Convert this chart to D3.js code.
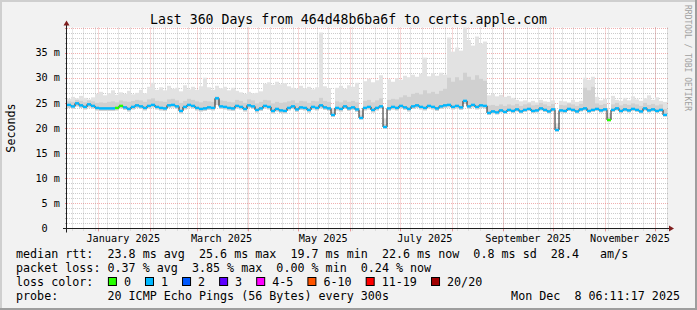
<!DOCTYPE html>
<html><head><meta charset="utf-8">
<script src="https://cdn.jsdelivr.net/npm/d3@7"></script>
<style>
html,body{margin:0;padding:0;background:#f2f2f2}
svg{display:block}
text{font-family:"DejaVu Sans Mono",monospace;white-space:pre}
</style>
</head><body><svg id="c" width="697" height="310"></svg>
<script>
const title = "Last 360 Days from 464d48b6ba6f to certs.apple.com";
const startTime = Date.UTC(2024, 11, 13, 6, 11, 17);
const endTime = Date.UTC(2025, 11, 8, 6, 11, 17);
const stepDays = 2.4;

const median = [
 24.6,24.3,24.9,24.5,24.2,24.7,24.4,24.0,23.9,23.9,
 23.9,23.9,24.0,24.4,24.1,23.8,24.2,24.5,24.3,24.0,
 24.4,24.6,24.2,24.0,23.9,24.5,24.6,24.3,23.4,24.2,
 24.6,24.4,24.0,23.8,23.9,24.1,24.0,25.9,24.3,24.2,
 24.0,23.9,24.4,24.2,23.8,24.5,24.3,23.6,23.9,24.4,
 24.2,23.4,23.8,23.5,23.4,24.0,24.3,23.7,24.1,24.0,
 23.6,24.2,24.0,24.5,24.1,23.9,22.6,24.0,23.8,24.3,
 23.9,24.1,23.7,22.0,24.0,24.2,23.6,24.0,24.3,20.2,
 23.9,24.2,24.0,24.4,24.1,23.8,24.3,24.5,24.2,24.0,
 24.4,24.2,23.9,24.3,24.5,24.6,24.2,24.4,24.1,25.4,
 24.3,24.6,24.2,24.5,24.4,23.0,23.3,23.1,23.5,23.2,
 23.6,23.4,23.7,23.3,23.6,23.8,23.4,23.5,23.9,23.6,
 23.3,23.7,19.6,23.5,23.4,23.8,23.6,23.3,23.7,23.9,
 23.4,23.6,23.8,23.5,23.7,21.6,23.6,23.9,23.4,23.7,
 23.5,23.8,23.6,23.3,23.9,23.5,23.7,23.4,23.6,22.6
];
const smokeMax = [
 25.8,26.2,25.9,26.4,26.0,25.7,26.1,26.8,27.2,26.5,
 26.9,27.5,26.6,27.1,26.8,27.4,26.7,27.0,27.6,26.9,
 28.2,29.0,27.6,28.1,27.5,28.4,27.8,28.0,27.3,28.5,
 27.7,28.2,27.6,28.3,30.0,28.1,27.6,28.4,27.9,28.2,
 27.5,28.0,27.4,27.1,26.8,27.2,26.9,27.0,27.3,28.8,
 29.1,28.6,29.2,28.7,28.9,28.3,28.0,27.8,28.4,27.9,
 28.2,27.7,28.1,39.0,28.3,27.9,24.0,28.0,28.4,27.8,
 28.5,28.2,29.0,23.5,29.3,29.8,29.1,29.5,30.5,22.0,
 29.7,29.2,29.9,29.6,30.4,30.1,30.6,30.2,30.8,34.0,
 30.3,30.9,30.4,31.0,30.6,38.0,35.2,36.0,35.4,40.0,
 37.5,36.4,38.2,36.8,37.2,26.5,26.8,26.3,26.6,26.2,
 26.4,26.0,25.6,25.3,25.5,25.2,25.4,25.1,25.6,25.3,
 25.2,25.5,21.0,25.4,25.3,25.1,25.6,25.2,25.4,30.0,
 29.6,30.2,26.2,25.5,25.8,22.8,26.4,25.6,25.4,26.0,
 25.5,26.3,25.7,25.4,25.9,26.5,25.6,26.1,25.4,25.2
];
const smokeUpper = [
 25.3,25.2,25.6,25.4,25.1,25.5,25.3,25.0,25.1,25.0,
 25.2,25.3,25.1,25.5,25.3,25.2,25.4,25.6,25.5,25.2,
 25.7,25.9,25.4,25.3,25.2,25.7,25.8,25.5,25.0,25.4,
 25.8,25.6,25.3,25.1,25.4,25.3,25.2,26.3,25.5,25.4,
 25.2,25.1,25.6,25.4,25.0,25.7,25.5,24.9,25.2,25.6,
 25.5,24.9,25.2,25.0,25.1,25.3,25.5,25.0,25.4,25.3,
 25.0,25.4,25.3,26.0,25.4,25.2,23.2,25.3,25.1,25.5,
 25.2,25.4,25.1,22.6,25.4,25.6,25.1,25.5,25.9,20.8,
 25.6,25.8,25.7,26.1,26.5,26.2,26.8,27.0,26.7,27.5,
 26.9,27.2,26.8,27.4,27.8,30.0,29.2,30.1,29.5,31.0,
 30.2,29.6,30.5,29.8,29.4,24.5,24.6,24.4,24.7,24.4,
 24.7,24.5,24.8,24.4,24.7,24.9,24.5,24.6,25.0,24.7,
 24.4,24.8,20.2,24.6,24.5,24.9,24.7,24.4,24.8,28.0,
 27.5,28.2,24.9,24.6,24.8,22.2,24.7,25.0,24.5,24.8,
 24.6,24.9,24.7,24.4,25.0,24.6,24.8,24.5,24.7,23.8
];
const smokeMin = [
 24.0,23.8,24.3,24.0,23.7,24.1,23.9,23.5,23.4,23.4,
 23.4,23.4,23.5,23.9,23.6,23.3,23.7,24.0,23.8,23.5,
 23.9,24.1,23.7,23.5,23.4,24.0,24.1,23.8,22.9,23.7,
 24.1,23.9,23.5,23.3,23.4,23.6,23.5,24.6,23.8,23.7,
 23.5,23.4,23.9,23.7,23.3,24.0,23.8,23.1,23.4,23.9,
 23.7,22.9,23.3,23.0,22.9,23.5,23.8,23.2,23.6,23.5,
 23.1,23.7,23.5,23.9,23.6,23.4,22.2,23.5,23.3,23.8,
 23.4,23.6,23.2,21.7,23.5,23.7,23.1,23.5,23.8,19.9,
 23.4,23.7,23.5,23.9,23.6,23.3,23.8,24.0,23.7,23.5,
 23.9,23.7,23.4,23.8,24.0,24.1,23.7,23.9,23.6,24.8,
 23.8,24.1,23.7,24.0,23.9,22.6,22.9,22.7,23.1,22.8,
 23.2,23.0,23.3,22.9,23.2,23.4,23.0,23.1,23.5,23.2,
 22.9,23.3,19.3,23.1,23.0,23.4,23.2,22.9,23.3,23.5,
 23.0,23.2,23.4,23.1,23.3,21.3,23.2,23.5,23.0,23.3,
 23.1,23.4,23.2,22.9,23.5,23.1,23.3,23.0,23.2,22.3
];
const lossZeroIdx = [12, 13, 135];

const yTicks = [0, 5, 10, 15, 20, 25, 30, 35];
const yTickLabels = ["0  ", "5 m", "10 m", "15 m", "20 m", "25 m", "30 m", "35 m"];
const unitLabel = "Seconds";

const statRows = [
  "median rtt:  23.8 ms avg  25.6 ms max  19.7 ms min  22.6 ms now  0.8 ms sd  28.4   am/s",
  "packet loss: 0.37 % avg  3.85 % max  0.00 % min  0.24 % now"
];
const lossLabels = ["0", "1", "2", "3", "4-5", "6-10", "11-19", "20/20"];
const lossColors = ["#26ff00", "#00b8ff", "#0059ff", "#5e00ff", "#ff00ff", "#ff5500", "#ff0000", "#a10000"];
const probeText = "probe:       20 ICMP Echo Pings (56 Bytes) every 300s";
const dateText = "Mon Dec  8 06:11:17 2025";
const watermark = "RRDTOOL / TOBI OETIKER";

const svg = d3.select("#c");
const W = 697, H = 310;
const X0 = 67, X1 = 667, Y0 = 228.5, YT = 27.5;

svg.append("rect").attr("width", W).attr("height", H).attr("fill", "#f2f2f2");
svg.append("path").attr("d", `M0,0H${W}V2H2V${H}H0Z`).attr("fill", "#cfcfcf");
svg.append("path").attr("d", `M${W},${H}H0V${H-2}H${W-2}V0H${W}Z`).attr("fill", "#9e9e9e");

const x = d3.scaleUtc().domain([new Date(startTime), new Date(endTime)]).range([X0, X1]);
const y = d3.scaleLinear().domain([0, 40]).range([Y0, YT]);

svg.append("rect").attr("x", X0).attr("y", YT).attr("width", X1 - X0).attr("height", Y0 - YT).attr("fill", "#fff");

const gridMinor = "rgba(143,143,143,0.45)";
const gridMajor = "rgba(222,79,79,0.45)";
const grid = svg.append("g");

d3.range(1, 41).forEach(v => {
  const yy = Math.round(y(v)) + 0.5;
  const major = v % 5 === 0;
  grid.append("line").attr("x1", X0 - 2).attr("x2", X1 + 2).attr("y1", yy).attr("y2", yy)
    .attr("stroke", major ? gridMajor : gridMinor).attr("stroke-dasharray", "1,1");
  grid.append("line").attr("x1", X0 - 2).attr("x2", X0).attr("y1", yy).attr("y2", yy)
    .attr("stroke", major ? gridMajor : gridMinor);
});
d3.utcMonday.range(new Date(startTime), new Date(endTime)).forEach(d => {
  const xx = Math.round(x(d)) + 0.5;
  grid.append("line").attr("x1", xx).attr("x2", xx).attr("y1", YT).attr("y2", Y0 + 2)
    .attr("stroke", gridMinor).attr("stroke-dasharray", "1,1");
});
d3.utcMonth.range(new Date(startTime), new Date(endTime)).forEach(d => {
  const xx = Math.round(x(d)) + 0.5;
  grid.append("line").attr("x1", xx).attr("x2", xx).attr("y1", YT).attr("y2", Y0 + 2)
    .attr("stroke", gridMajor).attr("stroke-dasharray", "1,1");
  grid.append("line").attr("x1", xx).attr("x2", xx).attr("y1", Y0).attr("y2", Y0 + 3)
    .attr("stroke", gridMajor);
});

const idx = d3.range(median.length);
const tAt = i => new Date(startTime + i * stepDays * 86400000);
const data = svg.append("g");
idx.forEach(i => {
  const xa = x(tAt(i)), xb = x(tAt(i + 1));
  data.append("rect").attr("x", xa).attr("width", xb - xa)
    .attr("y", y(smokeMax[i])).attr("height", Math.max(0, y(smokeMin[i]) - y(smokeMax[i])))
    .attr("fill", "#e2e2e2");
});
idx.forEach(i => {
  const xa = x(tAt(i)), xb = x(tAt(i + 1));
  data.append("rect").attr("x", xa).attr("width", xb - xa)
    .attr("y", y(smokeUpper[i])).attr("height", Math.max(0, y(smokeMin[i]) - y(smokeUpper[i])))
    .attr("fill", "#d0d0d0");
});
const medPts = idx.map(i => [tAt(i), median[i]]).concat([[tAt(median.length), median[median.length - 1]]]);
data.append("path")
  .attr("d", d3.line().x(d => x(d[0])).y(d => y(d[1])).curve(d3.curveStepAfter)(medPts))
  .attr("fill", "none").attr("stroke", "#202020").attr("stroke-width", 1);
idx.forEach(i => {
  const xa = x(tAt(i)), xb = x(tAt(i + 1));
  data.append("rect").attr("x", xa).attr("width", xb - xa)
    .attr("y", y(median[i]) - 1.2).attr("height", 2.4)
    .attr("fill", lossZeroIdx.includes(i) ? lossColors[0] : lossColors[1]);
});

svg.append("line").attr("x1", X0 - 4).attr("x2", X1 + 4).attr("y1", Y0).attr("y2", Y0).attr("stroke", "#1f1f1f");
svg.append("line").attr("x1", X0 - 0.5).attr("x2", X0 - 0.5).attr("y1", Y0 + 4).attr("y2", YT - 3).attr("stroke", "#1f1f1f");
svg.append("path").attr("d", `M${X1 + 2},${Y0 - 3}L${X1 + 2},${Y0 + 3}L${X1 + 7},${Y0}Z`).attr("fill", "#801f1f");
svg.append("path").attr("d", `M${X0 - 3.5},${YT - 2}L${X0 + 2.5},${YT - 2}L${X0 - 0.5},${YT - 7}Z`).attr("fill", "#801f1f");

yTicks.forEach((v, k) => {
  svg.append("text").attr("x", 60).attr("y", y(v) + 3.7).attr("text-anchor", "end")
    .attr("font-size", "10.2px").attr("fill", "#000").text(yTickLabels[k]);
});
d3.utcMonth.every(2).range(new Date(Date.UTC(2025, 0, 1)), new Date(endTime)).forEach(d => {
  const mid = new Date(d.getTime() + 15 * 86400000);
  svg.append("text").attr("x", x(mid)).attr("y", 241.5).attr("text-anchor", "middle")
    .attr("font-size", "10.2px").attr("fill", "#000").text(d3.utcFormat("%B %Y")(d));
});

svg.append("text").attr("transform", "translate(14.5,128) rotate(-90)").attr("text-anchor", "middle")
  .attr("font-size", "11.7px").text(unitLabel);

svg.append("text").attr("x", 348.5).attr("y", 23.5).attr("text-anchor", "middle")
  .attr("font-size", "13.2px").text(title);

svg.append("text").attr("transform", "translate(685,5) rotate(90)").attr("font-size", "8px")
  .attr("fill", "#a0a0a0").text(watermark);

const cw = 7.07, lx = 16;
statRows.forEach((s, k) => {
  svg.append("text").attr("x", lx).attr("y", 258 + k * 14).attr("font-size", "11.7px").text(s);
});
svg.append("text").attr("x", lx).attr("y", 286).attr("font-size", "11.7px").text("loss color:");
let bx = lx + 13 * cw;
lossLabels.forEach((l, k) => {
  svg.append("rect").attr("x", bx + 0.5).attr("y", 277.5).attr("width", 8).attr("height", 8)
    .attr("fill", lossColors[k]).attr("stroke", "#000").attr("stroke-width", 1);
  svg.append("text").attr("x", bx + 16).attr("y", 286).attr("font-size", "11.7px").text(l);
  bx += 30 + l.length * cw;
});
svg.append("text").attr("x", lx).attr("y", 300).attr("font-size", "11.7px").text(probeText);
svg.append("text").attr("x", 680).attr("y", 300).attr("text-anchor", "end").attr("font-size", "11.7px").text(dateText);
</script>
</body></html>
